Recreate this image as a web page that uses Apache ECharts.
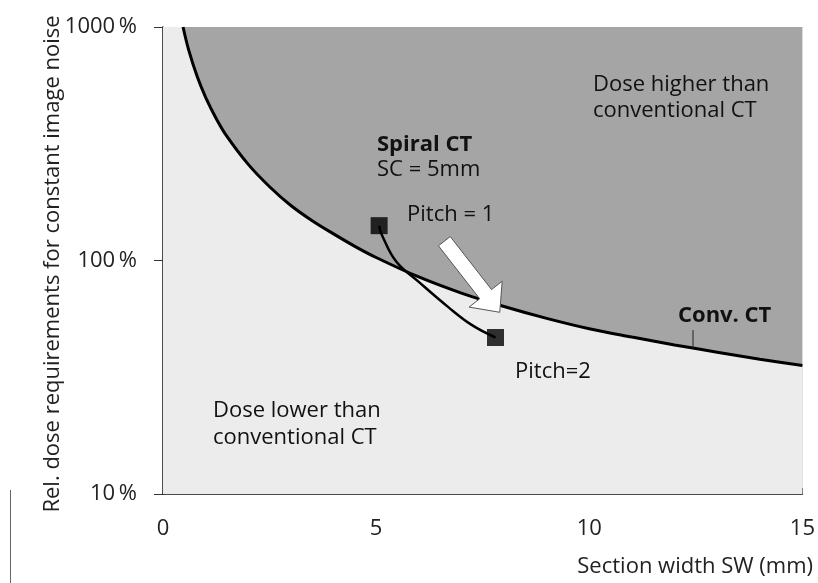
<!DOCTYPE html>
<html>
<head>
<meta charset="utf-8">
<title>Dose vs section width</title>
<script src="https://cdn.jsdelivr.net/npm/echarts@6/dist/echarts.min.js"></script>
<style>
  html, body { margin: 0; padding: 0; background: #fff; }
  #chart { width: 818px; height: 583px; }
</style>
</head>
<body>
<div id="chart"></div>
<script>
// values
//---------------------------

// conventional CT curve (section width in mm, relative dose in %)
var convWidth = [0.47, 0.6, 0.8, 1, 1.25, 1.5, 2, 2.5, 3, 3.5, 4, 4.5, 5, 6, 7, 8, 9, 10, 11, 12, 13, 14, 15];
var convDose = [1000, 800, 615, 500, 405, 340, 258, 207, 172, 148, 130, 115, 103, 85, 72.5, 63.5, 56.5, 51, 47, 43.5, 40.5, 37.8, 35.5];

// spiral CT, SC = 5mm, pitch 1 -> pitch 2
var spiralWidth = [5.07, 5.14, 5.47, 6.0, 6.7, 7.24, 7.8];
var spiralDose = [141, 128, 99, 81, 63, 53, 46.8];

// the two measured points
var pitchWidth = [5.07, 7.8];
var pitchDose = [141, 46.8];

// white arrow, tail and tip
var arrowFrom = [6.6, 121];
var arrowTo = [7.9, 60];

// range of the plot
var xMin = 0, xMax = 15;
var yMin = 10, yMax = 1000;

var FONT = 'Open Sans';

var zip = function(xs, ys) {
  return xs.map(function(x, i) { return [x, ys[i]]; });
};

var convData = zip(convWidth, convDose);
// strip left of where the curve leaves the top edge (a hair wider so no seam shows)
var stripData = [[xMin, yMax], [convWidth[0] + 0.02, yMax]];

// 画图
//-----
var myChart = echarts.init(document.getElementById('chart'));

var textItem = function(x, y, str, bold) {
  return {
    type: 'text',
    left: x,
    top: y,
    z: 100,
    style: {
      text: str,
      fill: '#111',
      font: (bold ? 'bold ' : '') + '22px "' + FONT + '"'
    }
  };
};

var lightFill = { color: '#ececec', origin: 'start', opacity: 1 };

var option = {
  animation: false,
  grid: {
    left: 163,
    right: 13,
    top: 27,
    bottom: 89,
    show: true,
    backgroundColor: '#a5a5a5',
    borderWidth: 0
  },
  xAxis: {
    type: 'value',
    min: xMin,
    max: xMax,
    interval: 5,
    axisLine: { lineStyle: { color: '#111', width: 1.5 } },
    axisTick: { inside: true, length: 6, lineStyle: { color: '#333' } },
    axisLabel: { margin: 24, fontFamily: FONT, fontSize: 22, color: '#222' },
    splitLine: { show: false }
  },
  yAxis: {
    type: 'log',
    logBase: 10,
    min: yMin,
    max: yMax,
    axisLine: { show: true, lineStyle: { color: '#111', width: 1.5 } },
    axisTick: { show: true, length: 9, lineStyle: { color: '#333' } },
    minorTick: { show: false },
    axisLabel: {
      margin: 26,
      fontFamily: FONT,
      fontSize: 22,
      color: '#222',
      formatter: function(v) { return v + '\u2009%'; }
    },
    splitLine: { show: false }
  },
  series: [
    {
      name: 'dose lower strip',
      type: 'line',
      data: stripData,
      showSymbol: false,
      lineStyle: { width: 0 },
      areaStyle: lightFill,
      silent: true,
      z: 1
    },
    {
      name: 'dose lower',
      type: 'line',
      data: convData,
      showSymbol: false,
      smooth: 0.35,
      lineStyle: { width: 0 },
      areaStyle: lightFill,
      silent: true,
      z: 1
    },
    {
      name: 'Conv. CT',
      type: 'line',
      data: convData,
      showSymbol: false,
      smooth: 0.35,
      lineStyle: { color: '#000', width: 3 },
      z: 3
    },
    {
      name: 'Spiral CT',
      type: 'line',
      data: zip(spiralWidth, spiralDose),
      showSymbol: false,
      smooth: 0.4,
      lineStyle: { color: '#000', width: 2.5 },
      z: 3
    },
    {
      name: 'Pitch',
      type: 'scatter',
      data: zip(pitchWidth, pitchDose),
      symbol: 'rect',
      symbolSize: 17,
      itemStyle: { color: '#000' },
      z: 4
    },
    {
      name: 'arrow',
      type: 'custom',
      data: [[arrowFrom[0], arrowFrom[1], arrowTo[0], arrowTo[1]]],
      encode: { x: [0, 2], y: [1, 3] },
      z: 5,
      renderItem: function(params, api) {
        var p0 = api.coord([api.value(0), api.value(1)]);
        var p1 = api.coord([api.value(2), api.value(3)]);
        var dx = p1[0] - p0[0], dy = p1[1] - p0[1];
        var len = Math.sqrt(dx * dx + dy * dy);
        var ux = dx / len, uy = dy / len;
        var nx = -uy, ny = ux;
        var shaft = 7.5, head = 21, headLen = 23;
        var bx = p1[0] - ux * headLen, by = p1[1] - uy * headLen;
        return {
          type: 'polygon',
          shape: {
            points: [
              [p0[0] + nx * shaft, p0[1] + ny * shaft],
              [bx + nx * shaft, by + ny * shaft],
              [bx + nx * head, by + ny * head],
              p1,
              [bx - nx * head, by - ny * head],
              [bx - nx * shaft, by - ny * shaft],
              [p0[0] - nx * shaft, p0[1] - ny * shaft]
            ]
          },
          style: { fill: '#fff', stroke: '#555', lineWidth: 1 }
        };
      }
    }
  ],
  graphic: [
    // axis titles
    {
      type: 'text',
      x: 53,
      y: 264,
      rotation: Math.PI / 2,
      style: {
        text: 'Rel. dose requirements for constant image noise',
        fill: '#222',
        font: '22px "' + FONT + '"',
        align: 'center',
        verticalAlign: 'middle'
      }
    },
    {
      type: 'text',
      right: 5,
      top: 556,
      style: {
        text: 'Section width SW (mm)',
        fill: '#222',
        font: '22px "' + FONT + '"'
      }
    },
    // annotations
    textItem(593, 74, 'Dose higher than'),
    textItem(593, 100, 'conventional CT'),
    textItem(377, 134, 'Spiral CT', true),
    textItem(377, 159, 'SC = 5mm'),
    textItem(407, 204, 'Pitch = 1'),
    textItem(678, 305, 'Conv. CT', true),
    textItem(515, 361, 'Pitch=2'),
    textItem(213, 400, 'Dose lower than'),
    textItem(213, 427, 'conventional CT'),
    {
      type: 'line',
      shape: { x1: 693, y1: 330, x2: 693, y2: 348 },
      style: { stroke: '#222', lineWidth: 1 },
      z: 100
    },
    // scan edge at the far left
    {
      type: 'line',
      shape: { x1: 10.5, y1: 490, x2: 10.5, y2: 583 },
      style: { stroke: '#666', lineWidth: 1 }
    }
  ]
};

myChart.setOption(option);

window.addEventListener('resize', function() {
  myChart.resize();
});
</script>
</body>
</html>
